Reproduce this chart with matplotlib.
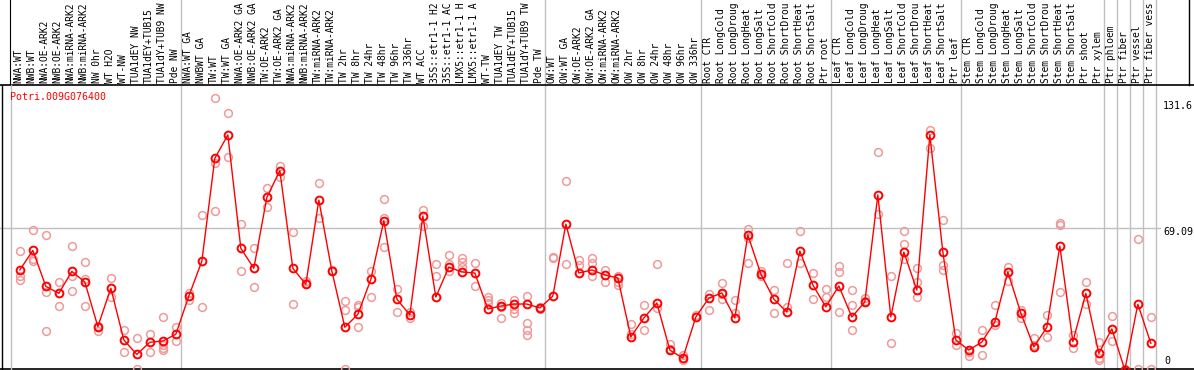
import matplotlib
matplotlib.use("Agg")
import matplotlib.pyplot as plt

gene = "Potri.009G076400"

# sample names as they appear (header only has room for ~14 characters)
labels = [
    "NWA:WT", "NWB:WT", "NWA:OE-ARK2", "NWB:OE-ARK2", "NWA:miRNA-ARK2", "NWB:miRNA-ARK2",
    "NW 0hr", "WT H2O", "WT-NW", "TUA1dEY NW", "TUA1dEY+TUB15", "TUA1dY+TUB9 NW", "Pde NW",
    "NWA:WT GA", "NWBWT GA", "TW:WT", "TW:WT GA", "NWA:OE-ARK2 GA", "NWB:OE-ARK2 GA",
    "TW:OE-ARK2", "TW:OE-ARK2 GA", "NWA:miRNA-ARK2", "NWB:miRNA-ARK2", "TW:miRNA-ARK2",
    "TW:miRNA-ARK2", "TW 2hr", "TW 8hr", "TW 24hr", "TW 48hr", "TW 96hr", "TW 336hr",
    "WT ACC", "35S::etr1-1 H2", "35S::etr1-1 AC", "LMX5::etr1-1 H", "LMX5::etr1-1 A",
    "WT-TW", "TUA1dEY TW", "TUA1dEY+TUB15", "TUA1dY+TUB9 TW", "Pde TW",
    "OW:WT", "OW:WT GA", "OW:OE-ARK2", "OW:OE-ARK2 GA", "OW:miRNA-ARK2", "OW:miRNA-ARK2",
    "OW 2hr", "OW 8hr", "OW 24hr", "OW 48hr", "OW 96hr", "OW 336hr",
    "Root CTR", "Root LongCold", "Root LongDroug", "Root LongHeat", "Root LongSalt",
    "Root ShortCold", "Root ShortDrou", "Root ShortHeat", "Root ShortSalt", "Ptr root",
    "Leaf CTR", "Leaf LongCold", "Leaf LongDroug", "Leaf LongHeat", "Leaf LongSalt",
    "Leaf ShortCold", "Leaf ShortDrou", "Leaf ShortHeat", "Leaf ShortSalt", "Ptr leaf",
    "Stem CTR", "Stem LongCold", "Stem LongDroug", "Stem LongHeat", "Stem LongSalt",
    "Stem ShortCold", "Stem ShortDrou", "Stem ShortHeat", "Stem ShortSalt",
    "Ptr shoot", "Ptr xylem", "Ptr phloem", "Ptr fiber", "Ptr vessel", "Ptr fiber vess",
]

# mean expression per sample
means = [
    48.7, 58.2, 40.7, 37.3, 48.0, 42.8, 21.1, 39.8, 14.6, 7.6, 13.5, 14.1, 17.4,
    36.0, 52.9, 103.0, 114.4, 59.2, 49.5, 84.0, 97.0, 49.5, 41.7, 82.7, 48.2,
    20.8, 27.1, 44.1, 72.7, 34.5, 26.8, 74.9, 35.5, 50.1, 47.7, 47.2, 29.7,
    31.1, 32.1, 32.1, 30.2,
    36.0, 71.0, 47.2, 48.7, 46.2, 44.8, 16.1, 25.3, 32.6, 9.7, 5.8, 25.8,
    35.0, 37.5, 25.3, 65.7, 46.7, 34.5, 28.2, 57.9, 41.4, 30.7,
    40.9, 25.8, 33.1, 85.2, 25.8, 57.4, 38.9, 114.4, 57.4, 14.6,
    9.7, 13.6, 23.4, 47.7, 27.7, 11.2, 20.8, 60.3, 13.8, 37.3, 8.1,
    20.0, 0.0, 32.0, 13.0,
]

# individual replicates
reps = [
    [57.9, 45.7, 43.8], [68.1, 54.0, 53.0], [65.7, 38.0, 19.0], [42.8, 31.1],
    [60.3, 45.7, 38.4], [52.6, 44.3, 31.1], [21.4, 19.0], [44.8, 35.5],
    [19.5, 8.8], [15.6, 0.5], [17.5, 8.8], [25.8, 12.2, 10.7, 9.7], [20.9, 14.1],
    [37.5, 34.1], [75.4, 30.7], [132.4, 100.7, 77.4], [125.1, 103.6], [71.0, 48.2],
    [59.4, 40.4], [88.6, 79.3], [99.3, 93.9], [67.2, 32.1], [43.3, 42.3],
    [91.0, 74.0], [48.7], [33.6, 29.2, 0.5], [31.6, 30.7, 20.9], [48.2, 35.5],
    [83.2, 74.0, 59.9], [39.4, 28.2], [28.2, 25.3], [77.9, 70.1], [51.6, 45.7],
    [56.0, 51.6, 48.2], [54.5, 52.6, 50.1], [52.1, 40.9], [35.5, 34.1, 32.6],
    [32.6, 30.7, 25.3], [34.1, 29.7, 27.7], [36.0, 22.9, 19.5, 17.0], [30.7, 29.7],
    [55.0, 54.5], [92.0, 51.6], [53.5, 51.1], [54.5, 52.1, 45.7], [48.7, 42.8],
    [45.7, 42.8, 41.4], [22.4, 17.5], [31.6, 19.5], [51.6, 30.2], [12.7, 10.2],
    [7.3, 4.9], [26.8], [37.0, 29.2], [42.3, 37.0, 34.5], [34.1, 27.7],
    [68.6, 64.2, 52.1], [48.2, 45.7], [38.9, 27.7], [52.1, 30.7], [67.6, 52.1],
    [47.2, 34.5], [39.4, 35.5], [50.6, 47.7, 28.2], [38.9, 31.6, 19.5], [35.0, 33.6],
    [106.1, 75.9], [45.7, 13.1], [67.6, 61.3, 54.0], [49.6, 42.8, 35.5],
    [116.8, 108.0], [73.0, 51.1, 48.7], [18.0, 12.2], [8.8, 6.8], [19.5, 7.3],
    [31.6, 21.9], [50.1, 43.3], [29.2, 25.3], [15.6, 12.2], [26.8, 16.1],
    [71.5, 70.6, 38.0], [17.0, 10.7], [42.8, 32.1], [13.6, 5.8, 4.9],
    [26.3, 14.1], [0.5], [63.7, 0.5], [25.8, 0.5],
]

# last sample index of each group (grey separators)
group_ends = [12, 40, 52, 62, 72, 83, 84, 85, 86, 87]
ref_value = 69.09
max_value = 131.6

W, H = 1194, 370


# pixel -> data helpers (for frame decorations only)
def xi(px):
    return (px - 18.8) / 13.0


def yv(py):
    return (370 - py) / 2.055


fig = plt.figure(figsize=(W / 100, H / 100), dpi=100)
ax = fig.add_axes([0, 0, 1, 1])
ax.set_xlim(xi(0), xi(W))
ax.set_ylim(yv(H), yv(0))
ax.axis('off')

mono = 'DejaVu Sans Mono'
grey = '#c0c0c0'

# frame
ax.plot([xi(0), xi(W)], [yv(85), yv(85)], color='black', lw=1.2)
ax.plot([xi(0), xi(W)], [yv(369), yv(369)], color='black', lw=1.2)
ax.plot([xi(1.5), xi(1.5)], [yv(85), yv(369)], color='black', lw=1.0)
ax.plot([xi(10), xi(10)], [yv(0), yv(85)], color='black', lw=0.8)
ax.plot([xi(10.7), xi(10.7)], [yv(85), yv(369)], color=grey, lw=1.0)
ax.plot([xi(1188.5), xi(1188.5)], [yv(0), yv(85)], color='black', lw=1.0)

for g in group_ends:
    ax.plot([g + 0.5, g + 0.5], [yv(0), yv(369)], color=grey, lw=1.0, zorder=1)

ax.plot([xi(0), xi(1160)], [ref_value, ref_value], color=grey, lw=1.0, zorder=1)

# sample labels
for i, lab in enumerate(labels):
    ax.text(i, yv(83), lab, rotation=90, ha='center', va='bottom',
            fontsize=6.9, family=mono, color='black')

# replicates
rx = [i for i, r in enumerate(reps) for _ in r]
ry = [v for r in reps for v in r]
ax.plot([x + 0.08 for x in rx], ry, 'o', ms=5.6, mfc='none', mec='#ef9a9a',
        mew=1.1, zorder=2, clip_on=True)

# means
xs = [i + 0.08 for i in range(len(means))]
ax.plot(xs, means, '-', color='red', lw=1.0, zorder=3)
ax.plot(xs, means, 'o', ms=5.6, mfc='none', mec='red', mew=1.4, zorder=4)

ax.text(xi(10), yv(97), gene, color='red', fontsize=7.2, family=mono,
        ha='left', va='center')

ax.text(xi(1163), yv(101), f"{max_value}", fontsize=7.2, family=mono,
        ha='left', va='top')
ax.text(xi(1163), yv(227), f"{ref_value}", fontsize=7.2, family=mono,
        ha='left', va='top')
ax.text(xi(1164), yv(366), "0", fontsize=7.2, family=mono,
        ha='left', va='bottom')

fig.savefig("out.png", dpi=100)
plt.close(fig)
